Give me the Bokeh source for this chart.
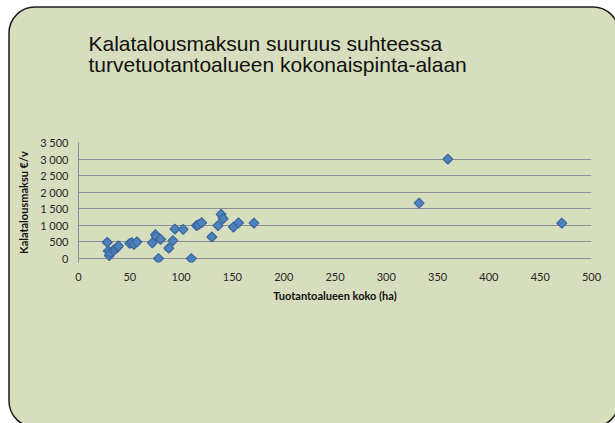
from bokeh.plotting import figure
from bokeh.models import FixedTicker, ColumnDataSource, Range1d, Title
from bokeh.embed import file_html
from bokeh.resources import INLINE
import math

# --- data ---
area_ha = [28, 29, 30, 31, 34, 36, 38, 39,
           50, 52, 54, 57,
           72, 75, 76, 78, 80,
           88, 92, 94, 102, 110,
           115, 117, 120, 130, 136, 139, 141, 151, 156, 171,
           332, 360, 471]
fee_eur = [490, 230, 90, 170, 250, 280, 340, 380,
           460, 480, 430, 500,
           470, 720, 660, 0, 580,
           310, 540, 890, 880, 0,
           995, 1020, 1080, 650, 995, 1330, 1200, 950, 1075, 1070,
           1670, 3000, 1065]
x_ticks = list(range(0, 501, 50))
y_ticks = list(range(0, 3501, 500))
y_tick_labels = {v: f"{v:,}".replace(",", " ") for v in y_ticks}
title_lines = ["Kalatalousmaksun suuruus suhteessa",
               "turvetuotantoalueen kokonaispinta-alaan"]
x_label = "Tuotantoalueen koko (ha)"
y_label = "Kalatalousmaksu €/v"

GRID = "#8E8E9A"

p = figure(width=615, height=423, output_backend="svg", toolbar_location=None,
           x_range=Range1d(0, 500), y_range=Range1d(-120, 3500),
           min_border_left=78, min_border_right=24,
           min_border_top=142, min_border_bottom=161)
p.background_fill_color = None
p.border_fill_color = None
p.outline_line_color = None

# rounded slide panel behind the transparent canvas (decoration only)
panel_svg = ("data:image/svg+xml;utf8,<svg xmlns='http://www.w3.org/2000/svg' "
             "width='615' height='423'><rect x='9' y='7' width='610' height='420' rx='26' ry='26' "
             "fill='%23D7DEBD' stroke='%231e1e1e' stroke-width='1.5'/></svg>")
p.styles = {"background-color": "white",
            "background-image": f'url("{panel_svg}")',
            "background-repeat": "no-repeat"}

src = ColumnDataSource(dict(x=area_ha, y=fee_eur))
p.scatter("x", "y", source=src, marker="square", size=7, angle=math.pi / 4,
          fill_color="#4F81BD", line_color="#3A679C", line_width=1.2)

# title (two lines)
p.title.text = "\n".join(title_lines)
p.title.align = "left"
p.title.vertical_align = "top"
p.title.offset = 10
p.title.standoff = 60
p.title.text_font = "Liberation Sans"
p.title.text_font_size = "21px"
p.title.text_font_style = "normal"
p.title.text_color = "#111111"
p.title.text_line_height = 0.95

# blank spacer between the title and the plot area
spacer = Title(text=" ", text_font_size="10px", standoff=21, vertical_align="top")
p.add_layout(spacer, "above")

# grid
p.xgrid.visible = False
p.ygrid.ticker = FixedTicker(ticks=y_ticks)
p.ygrid.grid_line_color = GRID
p.ygrid.grid_line_width = 1

# x axis
xa = p.xaxis[0]
xa.ticker = FixedTicker(ticks=x_ticks)
xa.axis_line_color = None
xa.major_tick_line_color = None
xa.minor_tick_line_color = None
xa.major_tick_out = 0
xa.major_tick_in = 0
xa.major_label_standoff = 10
xa.major_label_text_font = "Lato"
xa.major_label_text_font_size = "11px"
xa.major_label_text_color = "#262626"
xa.axis_label = x_label
xa.axis_label_text_font = "Lato"
xa.axis_label_text_font_style = "bold"
xa.axis_label_text_font_size = "11px"
xa.axis_label_text_color = "#111111"
xa.axis_label_standoff = 5

# y axis
ya = p.yaxis[0]
ya.ticker = FixedTicker(ticks=y_ticks)
ya.major_label_overrides = y_tick_labels
ya.axis_line_color = GRID
ya.major_tick_line_color = None
ya.minor_tick_line_color = None
ya.major_tick_out = 0
ya.major_tick_in = 0
ya.major_label_standoff = 10
ya.major_label_text_font = "Lato"
ya.major_label_text_font_size = "11px"
ya.major_label_text_color = "#262626"
ya.axis_label = y_label
ya.axis_label_text_font = "Lato"
ya.axis_label_text_font_style = "bold"
ya.axis_label_text_font_size = "11px"
ya.axis_label_text_color = "#111111"
ya.axis_label_standoff = 7

open("out.html", "w").write(file_html(p, INLINE))
